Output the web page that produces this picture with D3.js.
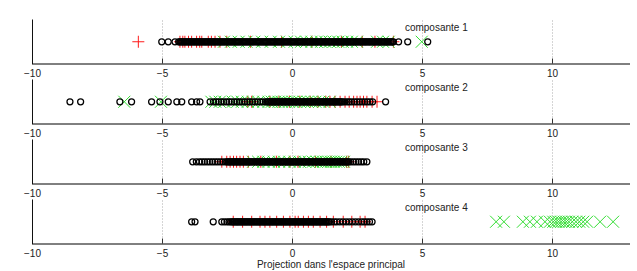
<!DOCTYPE html>
<html>
<head>
<meta charset="utf-8">
<script src="https://cdn.jsdelivr.net/npm/d3@7/dist/d3.min.js"></script>
<style>
  html, body { margin: 0; padding: 0; background: #fff; }
  svg { display: block; font-family: "Liberation Sans", Arial, sans-serif; }
</style>
</head>
<body>
<svg id="chart" width="637" height="271"></svg>
<script>
// ---- data ----
const panelTitles = ["composante 1", "composante 2", "composante 3", "composante 4"];
const xTicks = [-10, -5, 0, 5, 10];
const gridTicks = [-5, 0, 5, 10];
const xLabel = "Projection dans l'espace principal";

// composante 1
const black1 = [-5.01, -4.76, -4.5,
  -4.36, -4.32, -4.27, -4.23, -4.19, -4.15, -4.1, -4.06, -4.02, -3.97, -3.93, -3.89, -3.85, -3.8, -3.76, -3.72, -3.67, -3.63, -3.59, -3.55, -3.5, -3.46, -3.42, -3.37, -3.33, -3.29, -3.25, -3.2, -3.16, -3.12, -3.07, -3.03, -2.99, -2.95, -2.9, -2.86, -2.82, -2.77, -2.73,
  -2.69, -2.64, -2.6, -2.55, -2.5, -2.46, -2.41, -2.37, -2.32, -2.28, -2.23, -2.19, -2.14, -2.1, -2.05, -2.01, -1.96, -1.92, -1.87, -1.83, -1.78, -1.74, -1.69, -1.65, -1.6, -1.56, -1.51, -1.47, -1.42, -1.38, -1.33, -1.29, -1.24, -1.2, -1.15, -1.11, -1.06, -1.02, -0.97, -0.93, -0.88, -0.84, -0.79, -0.75, -0.7, -0.66, -0.61, -0.57, -0.52, -0.48, -0.43, -0.39, -0.34, -0.3, -0.25, -0.21, -0.16, -0.12, -0.07, -0.03, 0.02, 0.06, 0.11, 0.15, 0.2, 0.24, 0.29, 0.33,
  0.38, 0.42, 0.46, 0.5, 0.55, 0.59, 0.63, 0.67, 0.72, 0.76, 0.8, 0.84, 0.89, 0.93, 0.97, 1.01, 1.06, 1.1, 1.14, 1.18, 1.23, 1.27, 1.31, 1.35, 1.4, 1.44, 1.48, 1.52, 1.57, 1.61, 1.65, 1.69, 1.74, 1.78, 1.82, 1.86, 1.91, 1.95, 1.99, 2.03, 2.08, 2.12, 2.16, 2.2, 2.25, 2.29, 2.33, 2.37, 2.42, 2.46, 2.5, 2.54, 2.59, 2.63, 2.67, 2.71, 2.76, 2.8, 2.84, 2.88, 2.93, 2.97, 3.01, 3.05, 3.1, 3.14, 3.18, 3.22, 3.27, 3.31, 3.35, 3.39, 3.44, 3.48, 3.52, 3.56, 3.61, 3.65, 3.69, 3.73, 3.78, 3.82, 3.86, 3.9,
  4.1, 4.45, 5.22];
const red1 = [-5.91, -4.31, -4.2, -4.12, -3.98, -3.86, -3.67, -3.55, -3.47, -3.22, -3.1, -2.96, -2.77, -2.51, -1.6, -0.4, 0.76, 1.9, 2.7, 3.19, 3.9];
const green1 = [-2.62, -2.35, -2.05, -1.75, -1.45, -1.15, -0.82, -0.5, -0.2, 0.1, 0.35, 0.55, 0.75, 0.95, 1.12, 1.28, 1.45, 1.6, 1.78, 1.95, 2.12, 2.3, 2.5, 3.27, 3.5, 3.72, 4.99];

// composante 2
const black2 = [-8.54, -8.13, -6.62, -6.17, -5.4, -5.08, -4.76, -4.43, -4.24, -3.86, -3.67, -3.54,
  -3.15, -3.02, -2.92, -2.82, -2.72, -2.62, -2.52, -2.42, -2.32, -2.22, -2.12, -2.02, -1.92, -1.82, -1.72, -1.62, -1.52, -1.42, -1.32, -1.22, -1.12, -1.02, -0.95,
  -0.9, -0.86, -0.82, -0.77, -0.73, -0.69, -0.65, -0.6, -0.56, -0.52, -0.48, -0.43, -0.39, -0.35, -0.31, -0.26, -0.22, -0.18, -0.14, -0.09, -0.05, -0.01, 0.03, 0.08, 0.12, 0.16, 0.2, 0.25, 0.29, 0.33, 0.37, 0.42, 0.46, 0.5, 0.54, 0.59, 0.63, 0.67, 0.71, 0.76, 0.8, 0.84, 0.88, 0.93, 0.97, 1.01, 1.05, 1.1, 1.14, 1.18, 1.22, 1.27, 1.31, 1.35, 1.39, 1.44, 1.48, 1.52, 1.56, 1.61, 1.65, 1.69, 1.73, 1.78, 1.82, 1.86, 1.9,
  1.95, 2.03, 2.12, 2.2, 2.3, 2.4, 2.5, 2.6, 2.7, 2.8, 2.9, 3.0, 3.1, 3.6];
const red2 = [-1.7, -1.55, -0.85, -0.5, -0.1, 0.3, 0.7, 1.0, 1.3, 1.46, 1.65, 1.85, 2.04, 2.2, 2.37, 2.5, 2.62, 2.75, 2.88, 3.08, 3.27];
const green2 = [-6.45, -5.04, -3.1, -2.95, -2.78, -2.6, -2.28, -2.1, -1.93, -1.7, -1.5, -1.3, -1.1, -0.9, -0.78, -0.65, -0.52, -0.4, -0.26, -0.12, 0.02, 0.16, 0.3, 0.45, 0.6, 0.75, 0.9, 1.05, 1.2, 1.45];

// composante 3
const black3 = [-3.82, -3.68, -3.56, -3.46, -3.36, -3.26, -3.16, -3.06, -2.96, -2.86, -2.76, -2.66, -2.56, -2.5,
  -2.45, -2.41, -2.37, -2.32, -2.28, -2.24, -2.2, -2.15, -2.11, -2.07, -2.03, -1.98, -1.94, -1.9, -1.86, -1.81, -1.77, -1.73, -1.69, -1.64, -1.6, -1.56, -1.52, -1.47, -1.43, -1.39, -1.35, -1.3, -1.26, -1.22, -1.18, -1.13, -1.09, -1.05, -1.01, -0.96, -0.92, -0.88, -0.84, -0.79, -0.75, -0.71, -0.67, -0.62, -0.58, -0.54, -0.5, -0.45, -0.41, -0.37, -0.33, -0.28, -0.24, -0.2, -0.16, -0.11, -0.07, -0.03,
  0.01, 0.06, 0.1, 0.14, 0.18, 0.23, 0.27, 0.31, 0.35, 0.4, 0.44, 0.48, 0.52, 0.57, 0.61, 0.65, 0.69, 0.74, 0.78, 0.82, 0.86, 0.91, 0.95, 0.99, 1.03, 1.08, 1.12, 1.16, 1.2, 1.25, 1.29, 1.33, 1.37, 1.42, 1.46, 1.5, 1.54, 1.59, 1.63, 1.67, 1.71, 1.76, 1.8, 1.84, 1.88, 1.93, 1.97, 2.01, 2.05, 2.1, 2.14, 2.18,
  2.26, 2.36, 2.46, 2.56, 2.66, 2.76, 2.88];
const red3 = [-2.7, -2.51, -2.38, -2.25, -2.13, -2.0, -1.87, -1.68, -1.2, -0.6, -0.08, 0.23, 0.9, 1.5, 2.1, 2.18];
const green3 = [-1.5, -1.3, -1.1, -0.9, -0.7, -0.5, -0.3, -0.1, 0.1, 0.3, 0.5, 0.65, 0.8, 0.95, 1.1, 1.2, 1.3, 1.4, 1.5, 1.6, 1.7, 1.8, 1.9, 2.0];

// composante 4
const black4 = [-3.86, -3.73, -3.03, -2.7, -2.6, -2.5, -2.42, -2.35,
  -2.3, -2.26, -2.22, -2.17, -2.13, -2.09, -2.05, -2.0, -1.96, -1.92, -1.88, -1.83, -1.79, -1.75, -1.71, -1.66, -1.62, -1.58, -1.54, -1.49, -1.45, -1.41, -1.37, -1.32, -1.28, -1.24, -1.2, -1.15, -1.11, -1.07, -1.03, -0.98, -0.94, -0.9, -0.86, -0.81, -0.77, -0.73, -0.69, -0.64, -0.6, -0.56, -0.52, -0.47, -0.43, -0.39, -0.35, -0.3, -0.26, -0.22, -0.18, -0.13, -0.09, -0.05, -0.01,
  0.04, 0.08, 0.12, 0.16, 0.21, 0.25, 0.29, 0.33, 0.38, 0.42, 0.46, 0.5, 0.55, 0.59, 0.63, 0.67, 0.72, 0.76, 0.8, 0.84, 0.89, 0.93, 0.97, 1.01, 1.06, 1.1, 1.14, 1.18, 1.23, 1.27, 1.31, 1.35, 1.4, 1.44,
  1.52, 1.62, 1.72, 1.84, 1.96, 2.08, 2.2, 2.32, 2.44, 2.56, 2.68, 2.78, 2.88, 2.98, 3.08];
const red4 = [-2.26, -1.9, -1.55, -1.23, -1.04, -0.85, -0.59, -0.33, -0.08, 0.12, 0.24, 0.44, 0.63, 0.82, 1.08, 1.33, 1.59, 1.97, 2.3, 2.62, 2.81];
const green4 = [7.85, 8.15, 8.88, 9.15, 9.42, 9.73, 9.92, 10.05, 10.15, 10.25, 10.35, 10.45, 10.55, 10.65, 10.78, 10.92, 11.05, 11.2, 11.35, 11.85, 12.35];

const panels = [
  { title: panelTitles[0], black: black1, red: red1, green: green1 },
  { title: panelTitles[1], black: black2, red: red2, green: green2 },
  { title: panelTitles[2], black: black3, red: red3, green: green3 },
  { title: panelTitles[3], black: black4, red: red4, green: green4 }
];

// ---- layout ----
const svg = d3.select("#chart");
const left = 32, right = 630;
const panelTops = [19.5, 79.5, 139.5, 199.5];
const panelH = 44.5;
const titleX = 5.55;

const x = d3.scaleLinear().domain([-10, 13]).range([left, right]);

const plusHalf = 6, crossHalf = 6, circR = 3;
const redColor = "#ff1a1a", greenColor = "#33dd33";

panels.forEach((p, i) => {
  const top = panelTops[i];
  const bottom = top + panelH;
  const y = d3.scaleLinear().domain([-1, 1]).range([bottom, top]);
  const g = svg.append("g");

  // dotted grid
  g.selectAll("line.grid").data(gridTicks).enter().append("line")
    .attr("x1", d => Math.round(x(d)) + 0.5).attr("x2", d => Math.round(x(d)) + 0.5)
    .attr("y1", top + 1).attr("y2", bottom - 1)
    .attr("stroke", "#aaa").attr("stroke-width", 1).attr("stroke-dasharray", "1,2");

  // axis ticks and labels
  const axis = d3.axisBottom(x).tickValues(xTicks).tickSizeInner(-5).tickSizeOuter(0).tickPadding(6);
  const ag = g.append("g").attr("transform", `translate(0,${bottom - 0.5})`).call(axis);
  ag.select(".domain").remove();
  ag.selectAll(".tick line").attr("stroke", "#333");
  ag.selectAll(".tick text").attr("font-size", 10).attr("fill", "#222")
    .attr("font-family", "'Liberation Sans', Arial, sans-serif");

  // axis lines
  g.append("line").attr("x1", left).attr("x2", right).attr("y1", bottom).attr("y2", bottom)
    .attr("stroke", "#000").attr("stroke-width", 1);
  g.append("line").attr("x1", left + 0.5).attr("x2", left + 0.5).attr("y1", top).attr("y2", bottom)
    .attr("stroke", "#111").attr("stroke-width", 1);

  const cy = y(0);

  // red plus markers
  g.selectAll("path.red").data(p.red).enter().append("path")
    .attr("d", d => `M${x(d) - plusHalf},${cy}H${x(d) + plusHalf}M${x(d)},${cy - plusHalf}V${cy + plusHalf}`)
    .attr("stroke", redColor).attr("stroke-width", 1).attr("fill", "none");

  // green x markers
  g.selectAll("path.green").data(p.green).enter().append("path")
    .attr("d", d => `M${x(d) - crossHalf},${cy - crossHalf}L${x(d) + crossHalf},${cy + crossHalf}M${x(d) - crossHalf},${cy + crossHalf}L${x(d) + crossHalf},${cy - crossHalf}`)
    .attr("stroke", greenColor).attr("stroke-width", 1).attr("fill", "none");

  // black circle markers
  g.selectAll("circle.black").data(p.black).enter().append("circle")
    .attr("cx", d => x(d)).attr("cy", cy).attr("r", circR)
    .attr("fill", "none").attr("stroke", "#000").attr("stroke-width", 1.25);

  // title
  g.append("text").attr("x", x(titleX)).attr("y", top + 11.5)
    .attr("text-anchor", "middle").attr("font-size", 10).attr("fill", "#222")
    .text(p.title);
});

svg.append("text").attr("x", (left + right) / 2).attr("y", 267.5)
  .attr("text-anchor", "middle").attr("font-size", 10).attr("fill", "#222")
  .text(xLabel);
</script>
</body>
</html>
